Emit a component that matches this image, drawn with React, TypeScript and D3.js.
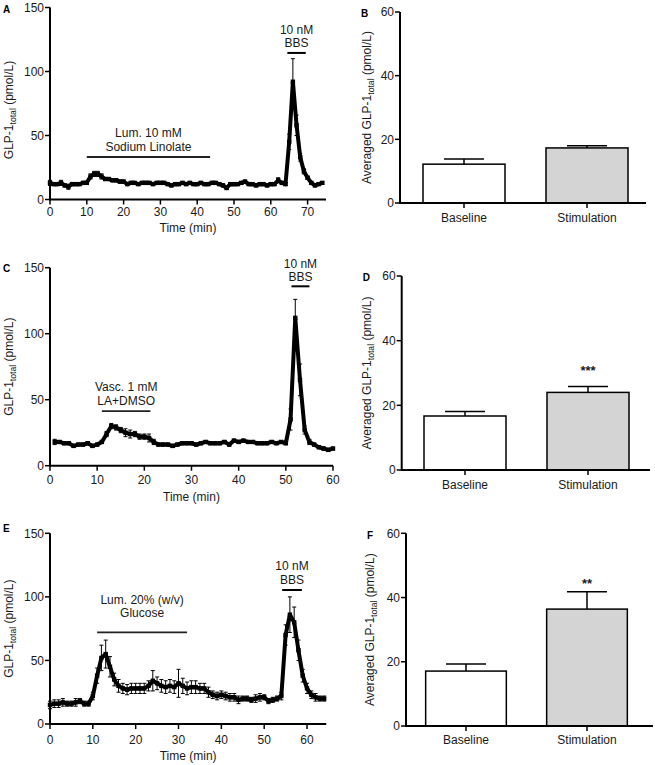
import React from "react";
import * as d3 from "d3";

// ---------- DATA ----------
// Panel A: luminal 10 mM sodium linolate, samples every minute from t = 0
const aStart = 0;
const aValues = [13,12,12,13,11,10,12,12,12,13, 13,18,20,20,18,16,16,15,15,14, 14,12,13,13,12,13,13,13,12,13, 13,13,12,11,12,12,13,12,13,12, 12,13,12,12,13,13,12,11,9,12, 12,12,13,14,12,12,11,12,12,11, 12,12,15,13,12,45,92,58,33,22, 17,13,11,12,13];
const aErrors = [2,1,1,2,1,2,1,1,1,1, 1,2,2,2,2,1,1,1,1,1, 1,1,1,1,1,1,1,1,1,1, 1,1,1,1,1,1,1,1,1,1, 1,1,1,1,1,1,1,1,1,1, 1,1,1,1,1,1,1,1,1,1, 1,1,2,1,1,6,18,8,3,2, 1,1,1,1,1];
const aTreatmentText = ["Lum. 10 mM", "Sodium Linolate"];
const aTreatmentSpan = [10, 43.5];
const aBbsSpan = [64.5, 69.5];

// Panel C: vascular 1 mM LA + DMSO, from t = 1
const cStart = 1;
const cValues = [18,18,17,17,15,16,16,17,15,16, 18,24,30,29,27,25,24,24,22,22, 21,18,16,16,16,15,16,17,17,17, 16,17,18,17,17,17,18,16,19,18, 19,18,18,17,17,17,18,17,18,17, 35,112,65,27,18,16,14,13,12,13];
const cErrors = [2,1,1,1,1,1,1,1,1,1, 1,2,2,2,2,3,3,2,2,2, 3,2,1,1,1,1,1,1,1,1, 1,1,1,1,1,1,1,1,1,1, 1,1,1,1,1,1,1,1,1,1, 8,14,12,3,2,1,1,1,1,1];
const cTreatmentText = ["Vasc. 1 mM", "LA+DMSO"];
const cTreatmentSpan = [11, 21.3];
const cBbsSpan = [51.2, 55];

// Panel E: luminal 20% glucose, from t = 0
const eStart = 0;
const eValues = [15,16,16,17,16,16,17,18,16,16, 22,38,52,55,45,35,30,28,27,28, 28,28,28,30,34,32,30,29,30,29, 32,30,28,29,29,28,28,25,23,22, 23,22,21,21,19,20,20,19,20,21, 21,18,19,20,22,70,86,80,58,38, 28,23,21,20,20];
const eErrors = [3,3,3,3,2,2,3,2,2,2, 3,6,10,11,8,5,5,4,4,4, 4,4,4,4,8,5,5,5,5,5, 11,6,5,5,5,4,4,4,3,3, 3,3,3,3,3,2,2,2,3,3, 2,2,2,2,3,8,14,12,8,5, 4,3,3,2,2];
const eTreatmentText = ["Lum. 20% (w/v)", "Glucose"];
const eTreatmentSpan = [11, 32];
const eBbsSpan = [54.2, 58.8];

const bbsText = ["10 nM", "BBS"];
const timeYTicks = [0, 50, 100, 150];
const aXTicks = [0, 10, 20, 30, 40, 50, 60, 70];
const cXTicks = [0, 10, 20, 30, 40, 50, 60];
const eXTicks = [0, 10, 20, 30, 40, 50, 60];

// Bar panels
const barCategories = ["Baseline", "Stimulation"];
const bValues = [12.2, 17.3];
const bErrors = [1.6, 0.7];
const dValues = [16.7, 24.0];
const dErrors = [1.4, 1.8];
const fValues = [17.1, 36.4];
const fErrors = [2.2, 5.4];
const dSig = "***";
const fSig = "**";
const barYTicks = [0, 20, 40, 60];

const FONT = "'Liberation Sans', Arial, Helvetica, sans-serif";
const FS = 12;
const TXT = "#1a1a1a";

type TimeProps = {
  letter: string;
  start: number;
  values: number[];
  errors: number[];
  xDomain: [number, number];
  xTicks: number[];
  xRange: [number, number];
  yRange: [number, number];
  treatment: string[];
  treatmentSpan: number[];
  treatmentLevel: number;
  treatmentOffsets: [number, number];
  bbsSpan: number[];
  bbsLevel: number;
  bbsOffsets: [number, number];
  tickLabelDy: number;
  titleDy: number;
  yTitleCenter: number;
  letterY: number;
};

function YTitle({ x, y, prefix, size = FS }: { x: number; y: number; prefix: string; size?: number }) {
  return (
    <text transform={`translate(${x},${y}) rotate(-90)`} textAnchor="middle" fontFamily={FONT} fontSize={size} fill={TXT}>
      {prefix}GLP-1
      <tspan fontSize={size * 0.72} dy={3}>total</tspan>
      <tspan dy={-3}> (pmol/L)</tspan>
    </text>
  );
}

function TimePanel(p: TimeProps) {
  const x = d3.scaleLinear().domain(p.xDomain).range(p.xRange);
  const y = d3.scaleLinear().domain([0, 150]).range(p.yRange);
  const pts = p.values.map((v, i) => ({ t: p.start + i, v, e: p.errors[i] }));
  const line = d3.line<{ t: number; v: number }>().x((d) => x(d.t)).y((d) => y(d.v));
  const axisY = p.yRange[0];
  const axisX = p.xRange[0];
  const tl = y(p.treatmentLevel);
  const bl = y(p.bbsLevel);
  const tMid = x((p.treatmentSpan[0] + p.treatmentSpan[1]) / 2);
  const bMid = x((p.bbsSpan[0] + p.bbsSpan[1]) / 2);
  return (
    <g fontFamily={FONT}>
      <text x={3} y={p.letterY} fontSize={10} fontWeight="bold">{p.letter}</text>
      {pts.map((d, i) => (
        <g key={"e" + i} stroke="#000" strokeWidth={1}>
          <line x1={x(d.t)} x2={x(d.t)} y1={y(d.v + d.e)} y2={y(d.v - d.e)} />
          <line x1={x(d.t) - 2} x2={x(d.t) + 2} y1={y(d.v + d.e)} y2={y(d.v + d.e)} />
          <line x1={x(d.t) - 2} x2={x(d.t) + 2} y1={y(d.v - d.e)} y2={y(d.v - d.e)} />
        </g>
      ))}
      <path d={line(pts) || ""} fill="none" stroke="#000" strokeWidth={4} strokeLinejoin="round" />
      {pts.map((d, i) => (
        <rect key={"m" + i} x={x(d.t) - 2.2} y={y(d.v) - 2.2} width={4.4} height={4.4} fill="#000" />
      ))}
      <line x1={axisX} x2={p.xRange[1]} y1={axisY} y2={axisY} stroke="#000" strokeWidth={2} />
      <line x1={axisX} x2={axisX} y1={axisY + 1} y2={p.yRange[1]} stroke="#000" strokeWidth={2} />
      {p.xTicks.map((t) => (
        <g key={"xt" + t}>
          <line x1={x(t)} x2={x(t)} y1={axisY} y2={axisY + 5} stroke="#000" strokeWidth={1.5} />
          <text x={x(t)} y={axisY + p.tickLabelDy} textAnchor="middle" fontSize={FS} fill={TXT}>{t}</text>
        </g>
      ))}
      {timeYTicks.map((t) => (
        <g key={"yt" + t}>
          <line x1={axisX - 5} x2={axisX} y1={y(t)} y2={y(t)} stroke="#000" strokeWidth={1.5} />
          <text x={axisX - 6} y={y(t) + 4.3} textAnchor="end" fontSize={FS} fill={TXT}>{t}</text>
        </g>
      ))}
      <text x={(p.xRange[0] + p.xRange[1]) / 2} y={axisY + p.titleDy} textAnchor="middle" fontSize={FS} fill={TXT}>Time (min)</text>
      <YTitle x={13} y={p.yTitleCenter} prefix="" />
      <line x1={x(p.treatmentSpan[0])} x2={x(p.treatmentSpan[1])} y1={tl} y2={tl} stroke="#222" strokeWidth={1.8} />
      <text x={tMid} y={tl + p.treatmentOffsets[0]} textAnchor="middle" fontSize={FS} fill={TXT}>{p.treatment[0]}</text>
      <text x={tMid} y={tl + p.treatmentOffsets[1]} textAnchor="middle" fontSize={FS} fill={TXT}>{p.treatment[1]}</text>
      <line x1={x(p.bbsSpan[0])} x2={x(p.bbsSpan[1])} y1={bl} y2={bl} stroke="#000" strokeWidth={2} />
      <text x={bMid} y={bl + p.bbsOffsets[0]} textAnchor="middle" fontSize={FS} fill={TXT}>{bbsText[0]}</text>
      <text x={bMid} y={bl + p.bbsOffsets[1]} textAnchor="middle" fontSize={FS} fill={TXT}>{bbsText[1]}</text>
    </g>
  );
}

type BarProps = {
  letter: string;
  values: number[];
  errors: number[];
  axisX: number;
  axisEnd: number;
  yRange: [number, number];
  bandRange: [number, number];
  sig?: string;
  sigY?: number;
  letterY: number;
  titleX: number;
  labelDy: number;
};

function BarPanel(p: BarProps) {
  const y = d3.scaleLinear().domain([0, 60]).range(p.yRange);
  const xb = d3.scaleBand<string>().domain(barCategories).range(p.bandRange).paddingInner(1 / 3).paddingOuter(1 / 6);
  const axisY = p.yRange[0];
  const fills = ["#ffffff", "#d4d4d4"];
  return (
    <g fontFamily={FONT}>
      <text x={p.axisX - 39} y={p.letterY} fontSize={10} fontWeight="bold">{p.letter}</text>
      {barCategories.map((c, i) => {
        const x0 = xb(c)!;
        const cx = x0 + xb.bandwidth() / 2;
        const top = y(p.values[i]);
        const et = y(p.values[i] + p.errors[i]);
        return (
          <g key={c}>
            <line x1={cx} x2={cx} y1={top} y2={et} stroke="#000" strokeWidth={1.5} />
            <line x1={cx - 20} x2={cx + 20} y1={et} y2={et} stroke="#000" strokeWidth={1.5} />
            <rect x={x0} y={top} width={xb.bandwidth()} height={axisY - top} fill={fills[i]} stroke="#000" strokeWidth={1.5} />
            <line x1={cx} x2={cx} y1={axisY} y2={axisY + 5} stroke="#000" strokeWidth={1.5} />
            <text x={cx} y={axisY + p.labelDy} textAnchor="middle" fontSize={FS} fill={TXT}>{c}</text>
          </g>
        );
      })}
      {p.sig && (
        <text x={xb(barCategories[1])! + xb.bandwidth() / 2} y={y(p.sigY!)} textAnchor="middle" fontSize={13} fontWeight="bold" fill={TXT}>{p.sig}</text>
      )}
      <line x1={p.axisX} x2={p.axisEnd} y1={axisY} y2={axisY} stroke="#000" strokeWidth={2} />
      <line x1={p.axisX} x2={p.axisX} y1={axisY + 1} y2={p.yRange[1]} stroke="#000" strokeWidth={2} />
      {barYTicks.map((t) => (
        <g key={t}>
          <line x1={p.axisX - 5} x2={p.axisX} y1={y(t)} y2={y(t)} stroke="#000" strokeWidth={1.5} />
          <text x={p.axisX - 6} y={y(t) + 4.3} textAnchor="end" fontSize={FS} fill={TXT}>{t}</text>
        </g>
      ))}
      <YTitle x={p.titleX} y={(p.yRange[0] + p.yRange[1]) / 2} prefix="Averaged " />
    </g>
  );
}

export default function App() {
  return (
    <svg width={655} height={765} style={{ position: "absolute", left: 0, top: 0, background: "#fff" }}>
      <rect width={655} height={765} fill="#fff" />
      <TimePanel
        letter="A" start={aStart} values={aValues} errors={aErrors}
        xDomain={[0, 75]} xTicks={aXTicks} xRange={[50, 326]} yRange={[199.5, 7.5]}
        treatment={aTreatmentText} treatmentSpan={aTreatmentSpan} treatmentLevel={33.2} treatmentOffsets={[-20, -6]}
        bbsSpan={aBbsSpan} bbsLevel={114.5} bbsOffsets={[-19, -6]}
        tickLabelDy={16} titleDy={32} yTitleCenter={110} letterY={13}
      />
      <TimePanel
        letter="C" start={cStart} values={cValues} errors={cErrors}
        xDomain={[0, 60]} xTicks={cXTicks} xRange={[50, 333]} yRange={[465.7, 267.7]}
        treatment={cTreatmentText} treatmentSpan={cTreatmentSpan} treatmentLevel={41.4} treatmentOffsets={[-20, -6]}
        bbsSpan={cBbsSpan} bbsLevel={135.9} bbsOffsets={[-18, -5]}
        tickLabelDy={18} titleDy={35} yTitleCenter={366.7} letterY={272}
      />
      <TimePanel
        letter="E" start={eStart} values={eValues} errors={eErrors}
        xDomain={[0, 64.5]} xTicks={eXTicks} xRange={[50, 326.3]} yRange={[724, 533.3]}
        treatment={eTreatmentText} treatmentSpan={eTreatmentSpan} treatmentLevel={72.1} treatmentOffsets={[-28, -15]}
        bbsSpan={eBbsSpan} bbsLevel={105.4} bbsOffsets={[-20, -6]}
        tickLabelDy={20} titleDy={36} yTitleCenter={628.7} letterY={532}
      />
      <BarPanel letter="B" values={bValues} errors={bErrors} axisX={400} axisEnd={646}
        yRange={[203, 12]} bandRange={[402.5, 648.5]} letterY={17} titleX={371} labelDy={19} />
      <BarPanel letter="D" values={dValues} errors={dErrors} axisX={401.7} axisEnd={650}
        yRange={[470, 276]} bandRange={[403.5, 649.5]} sig={dSig} sigY={29.5} letterY={281} titleX={371} labelDy={19} />
      <BarPanel letter="F" values={fValues} errors={fErrors} axisX={406} axisEnd={653}
        yRange={[726, 533.3]} bandRange={[405.5, 647.5]} sig={fSig} sigY={43} letterY={539} titleX={374} labelDy={18} />
    </svg>
  );
}
